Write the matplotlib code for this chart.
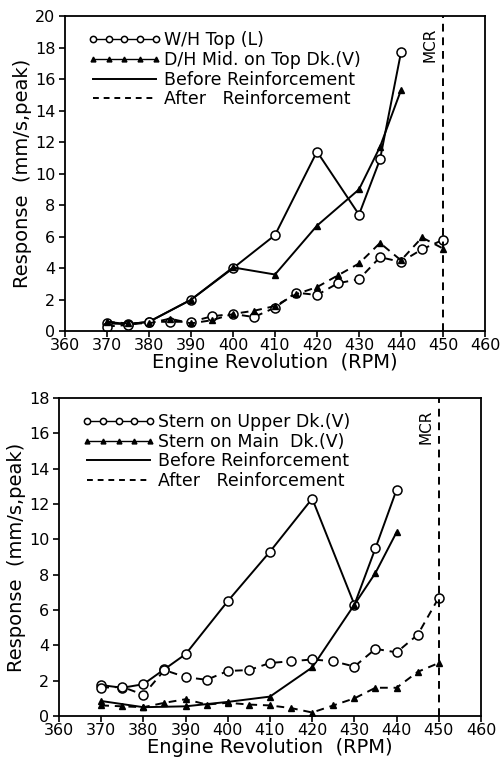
import matplotlib.pyplot as plt
from matplotlib.lines import Line2D

plt.rcParams['font.family'] = ['DejaVu Sans']

# top panel: W/H Top (L) and D/H Mid. on Top Dk.(V)
rpm_top_before = [370, 375, 380, 390, 400, 410, 420, 430, 435, 440]
wh_before = [0.5, 0.45, 0.6, 2.0, 4.0, 6.1, 11.4, 7.4, 10.9, 17.7]
dh_before = [0.6, 0.45, 0.6, 2.0, 4.05, 3.6, 6.7, 9.0, 11.7, 15.3]
rpm_after = [370, 375, 380, 385, 390, 395, 400, 405, 410, 415, 420,
             425, 430, 435, 440, 445, 450]
wh_after = [0.3, 0.4, 0.6, 0.6, 0.6, 0.95, 1.1, 0.9, 1.5, 2.45, 2.3,
            3.05, 3.3, 4.7, 4.4, 5.2, 5.8]
dh_after = [0.6, 0.5, 0.5, 0.8, 0.5, 0.7, 1.1, 1.3, 1.6, 2.35, 2.8,
            3.55, 4.3, 5.6, 4.5, 5.95, 5.25]

# bottom panel: Stern on Upper Dk.(V) and Stern on Main Dk.(V)
rpm_upper_before = [370, 375, 380, 385, 390, 400, 410, 420, 430, 435, 440]
upper_before = [1.75, 1.6, 1.8, 2.65, 3.5, 6.5, 9.3, 12.3, 6.3, 9.5, 12.8]
rpm_main_before = [370, 380, 390, 400, 410, 420, 430, 435, 440]
main_before = [0.85, 0.5, 0.55, 0.8, 1.1, 2.75, 6.3, 8.1, 10.4]
upper_after = [1.6, 1.65, 1.2, 2.6, 2.2, 2.05, 2.55, 2.6, 3.0, 3.1, 3.2,
               3.1, 2.8, 3.8, 3.6, 4.6, 6.7]
main_after = [0.6, 0.55, 0.5, 0.75, 0.95, 0.65, 0.75, 0.65, 0.6, 0.45,
              0.2, 0.6, 1.0, 1.6, 1.6, 2.5, 3.0]

MCR = 450
xticks = list(range(360, 461, 10))

fig = plt.figure(figsize=(5.0, 7.65), dpi=100)
ax1 = fig.add_axes([0.13, 0.567, 0.840, 0.412])
ax2 = fig.add_axes([0.118, 0.064, 0.844, 0.416])

circ = dict(marker='o', markersize=6.5, markerfacecolor='white',
            markeredgecolor='black', markeredgewidth=1.1, color='black')
tri = dict(marker='^', markersize=5, markerfacecolor='black',
           markeredgecolor='black', color='black')


def draw_panel(ax, series, ymax, names):
    for x, y, style, ls in series:
        ax.plot(x, y, linestyle=ls, linewidth=1.4, **style)
    ax.axvline(MCR, color='black', linestyle=(0, (4, 3)), linewidth=1.4)
    ax.text(MCR - 1.2, ymax * 0.91, 'MCR', rotation=90, ha='right',
            va='center', fontsize=11)
    ax.set_xlim(360, 460)
    ax.set_ylim(0, ymax)
    ax.set_xticks(xticks)
    ax.set_yticks(range(0, ymax + 1, 2))
    ax.tick_params(direction='out', length=4, width=1.2, labelsize=11.5)
    ax.tick_params(axis='x', pad=1)
    ax.tick_params(axis='y', pad=3)
    for sp in ax.spines.values():
        sp.set_linewidth(1.3)
    ax.set_xlabel('Engine Revolution  (RPM)', fontsize=14, labelpad=0)
    ax.set_ylabel('Response  (mm/s,peak)', fontsize=14, labelpad=2)
    handles = [
        Line2D([], [], linestyle='-', linewidth=1.0, markersize=4.5,
               **{k: v for k, v in circ.items() if k != 'markersize'}),
        Line2D([], [], linestyle='-', linewidth=1.0, markersize=3.5,
               **{k: v for k, v in tri.items() if k != 'markersize'}),
        Line2D([], [], color='black', linestyle='-', linewidth=1.4),
        Line2D([], [], color='black', linestyle=(0, (3, 2.5)), linewidth=1.4),
    ]
    ax.legend(handles, names, loc='upper left', bbox_to_anchor=(0.03, 0.985),
              frameon=False, numpoints=5, handlelength=4.2,
              handletextpad=0.2, labelspacing=0.1, fontsize=12.5,
              borderaxespad=0.2)


draw_panel(ax1, [
    (rpm_top_before, wh_before, circ, '-'),
    (rpm_top_before, dh_before, tri, '-'),
    (rpm_after, wh_after, circ, (0, (4, 3))),
    (rpm_after, dh_after, tri, (0, (4, 3))),
], 20, ['W/H Top (L)', 'D/H Mid. on Top Dk.(V)',
        'Before Reinforcement', 'After   Reinforcement'])

draw_panel(ax2, [
    (rpm_upper_before, upper_before, circ, '-'),
    (rpm_main_before, main_before, tri, '-'),
    (rpm_after, upper_after, circ, (0, (4, 3))),
    (rpm_after, main_after, tri, (0, (4, 3))),
], 18, ['Stern on Upper Dk.(V)', 'Stern on Main  Dk.(V)',
        'Before Reinforcement', 'After   Reinforcement'])

fig.savefig('out.png', dpi=100)
